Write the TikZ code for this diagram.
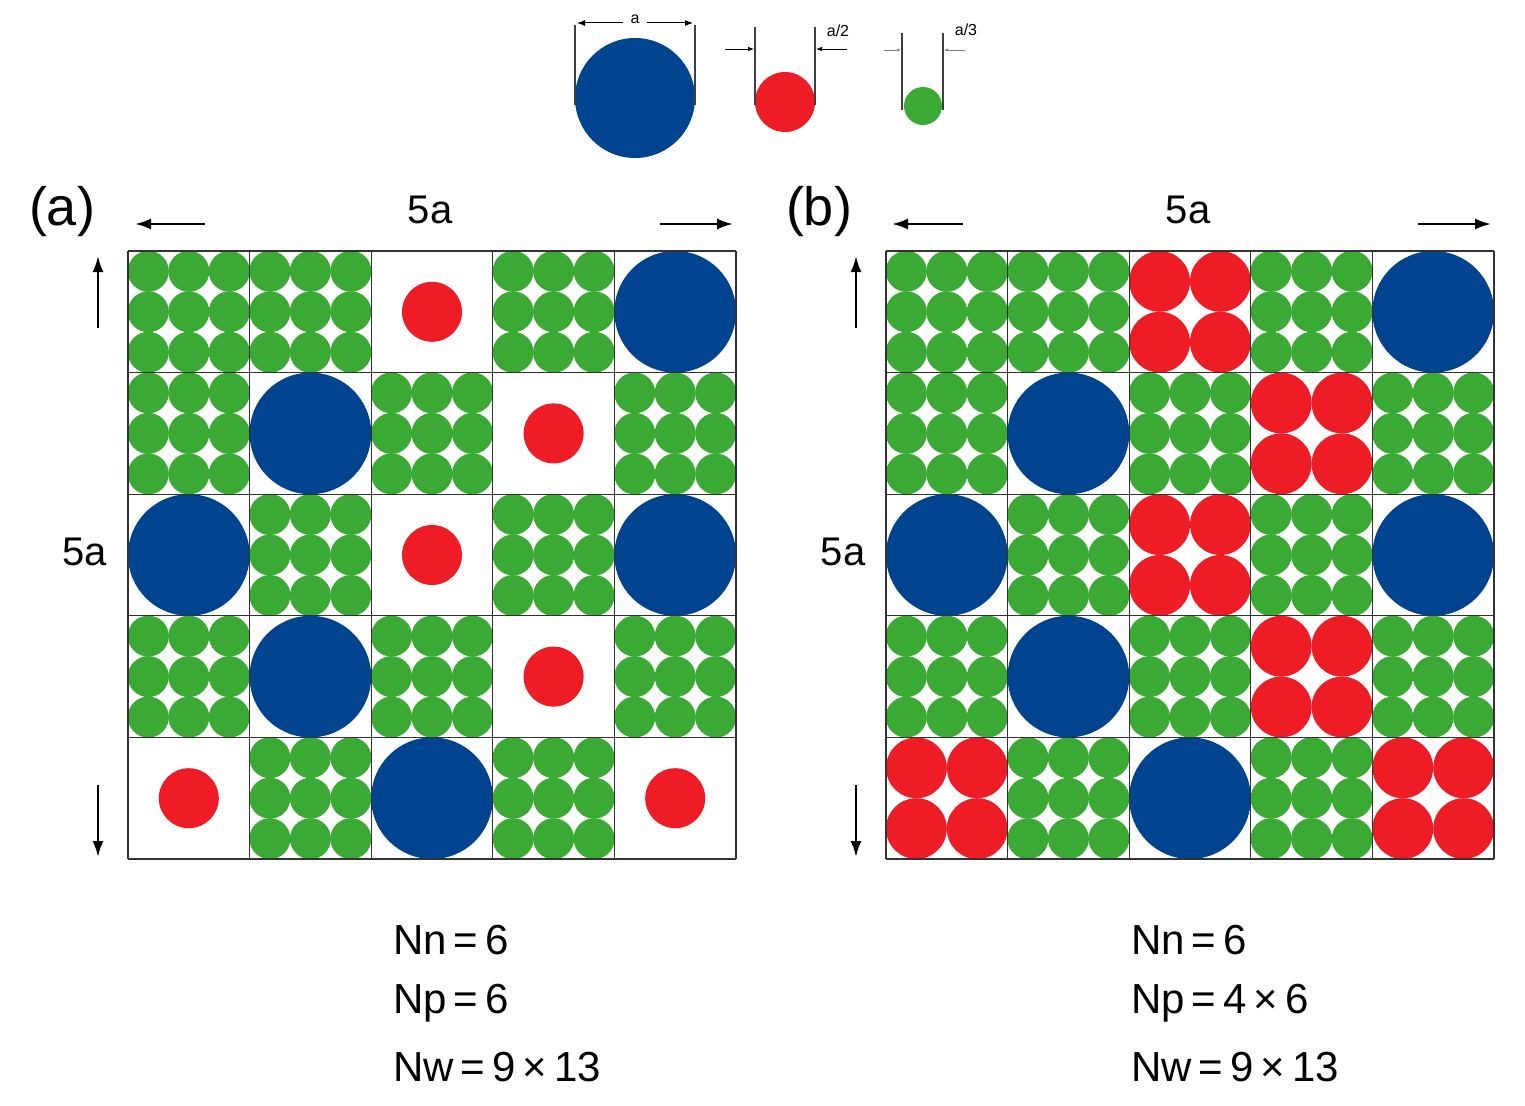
\documentclass[tikz,border=0pt]{standalone}
\usepackage{fontspec}
\setmainfont{Liberation Sans}
\usetikzlibrary{arrows.meta}
\begin{document}
\begin{tikzpicture}[x=1pt,y=-1pt,
  bl/.style={fill=bluec,draw=none},
  rd/.style={fill=redc,draw=none},
  gr/.style={fill=greenc,draw=none},
  arr/.style={-{Latex[length=16pt,width=11pt]},line width=2.4pt},
  big/.style={font=\fontsize{44}{50}\selectfont},
  dim/.style={line width=1.5pt,draw=black!75}]
\definecolor{bluec}{HTML}{00438F}
\definecolor{redc}{HTML}{EE1C25}
\definecolor{greenc}{HTML}{3BAA35}
\useasboundingbox (0,0) rectangle (1525,1105);
% legend
\fill[bl] (635,98) circle (60);
\draw[dim] (575,25) -- (575,105) (695,25) -- (695,105);
\node[font=\fontsize{16}{18}\selectfont] (la) at (635,19) {a};
\draw[-{Latex[length=8pt]},line width=1pt] (623,23) -- (577,23);
\draw[-{Latex[length=8pt]},line width=1pt] (647,23) -- (693,23);
\fill[rd] (785,102) circle (30);
\draw[dim] (755,27) -- (755,105) (815,27) -- (815,105);
\draw[-{Latex[length=6pt]},line width=0.8pt] (725,49) -- (754,49);
\draw[-{Latex[length=6pt]},line width=0.8pt] (847,49) -- (816,49);
\node[font=\fontsize{16}{18}\selectfont] (la2) at (838,31) {a/2};
\fill[gr] (923,106) circle (19);
\draw[dim] (902,33) -- (902,110) (943,33) -- (943,110);
\draw[-{Latex[length=4pt]},line width=0.5pt,gray] (884,50) -- (901,50);
\draw[-{Latex[length=4pt]},line width=0.5pt,gray] (965,50) -- (944,50);
\node[font=\fontsize{16}{18}\selectfont] (la3) at (966,30) {a/3};
% grids
\def\cs{121.6}
\foreach \X/\mode in {128/a,886/b}{
  \foreach \r/\row in {0/{G,G,R,G,B},1/{G,B,G,R,G},2/{B,G,R,G,B},3/{G,B,G,R,G},4/{R,G,B,G,R}}{
    \foreach \t [count=\c from 0] in \row {
      \pgfmathsetmacro{\cx}{\X+(\c+0.5)*\cs}
      \pgfmathsetmacro{\cy}{251+(\r+0.5)*\cs}
      \if\t G
        \foreach \i in {-1,0,1}{\foreach \j in {-1,0,1}{
          \fill[gr] (\cx+\i*40.5,\cy+\j*40.5) circle (20.5);}}
      \fi
      \if\t B \fill[bl] (\cx,\cy) circle (60.8); \fi
      \if\t R
        \if\mode a \fill[rd] (\cx,\cy) circle (30);
        \else
          \foreach \i in {-1,1}{\foreach \j in {-1,1}{
            \fill[rd] (\cx+\i*30.4,\cy+\j*30.4) circle (30.4);}}
        \fi
      \fi
    }
  }
  \foreach \k in {0,...,5}{
    \draw[line width=1.3pt,black!80] (\X+\k*\cs,251) -- (\X+\k*\cs,859);
    \draw[line width=1.3pt,black!80] (\X,251+\k*\cs) -- (\X+5*\cs,251+\k*\cs);
  }
}
% annotations (a)
\node[big,font=\fontsize{54}{60}\selectfont] (pa) at (62,212) {(a)};
\node[big,font=\fontsize{40}{46}\selectfont] (ta) at (430,210) {5a};
\node[big,font=\fontsize{40}{46}\selectfont] (sa) at (85,552) {5a};
\coordinate (a1) at (205,224); \coordinate (a2) at (135,224);
\coordinate (a3) at (660,224); \coordinate (a4) at (733,224);
\coordinate (a5) at (98,328); \coordinate (a6) at (98,256);
\coordinate (a7) at (98,785); \coordinate (a8) at (98,857);
\draw[arr] (a1) -- (a2); \draw[arr] (a3) -- (a4);
\draw[arr] (a5) -- (a6); \draw[arr] (a7) -- (a8);
% annotations (b)
\node[big,font=\fontsize{54}{60}\selectfont] (pb) at (819,212) {(b)};
\node[big,font=\fontsize{40}{46}\selectfont] (tb) at (1188,210) {5a};
\node[big,font=\fontsize{40}{46}\selectfont] (sb) at (843,552) {5a};
\coordinate (b1) at (963,224); \coordinate (b2) at (892,224);
\coordinate (b3) at (1418,224); \coordinate (b4) at (1491,224);
\coordinate (b5) at (856,328); \coordinate (b6) at (856,256);
\coordinate (b7) at (856,785); \coordinate (b8) at (856,857);
\draw[arr] (b1) -- (b2); \draw[arr] (b3) -- (b4);
\draw[arr] (b5) -- (b6); \draw[arr] (b7) -- (b8);
% counts
\foreach \n/\X/\y/\s in {n1/393/940/{Nn\,=\,6},n2/393/1003/{Np\,=\,6},n3/393/1067/{Nw\,=\,9\,×\,13},
  m1/1131/940/{Nn\,=\,6},m2/1131/1003/{Np\,=\,4\,×\,6},m3/1131/1067/{Nw\,=\,9\,×\,13}}{
  \node[anchor=west,inner sep=0,font=\fontsize{42}{48}\selectfont] (\n) at (\X,\y) {\s};
}
\end{tikzpicture}
\end{document}
